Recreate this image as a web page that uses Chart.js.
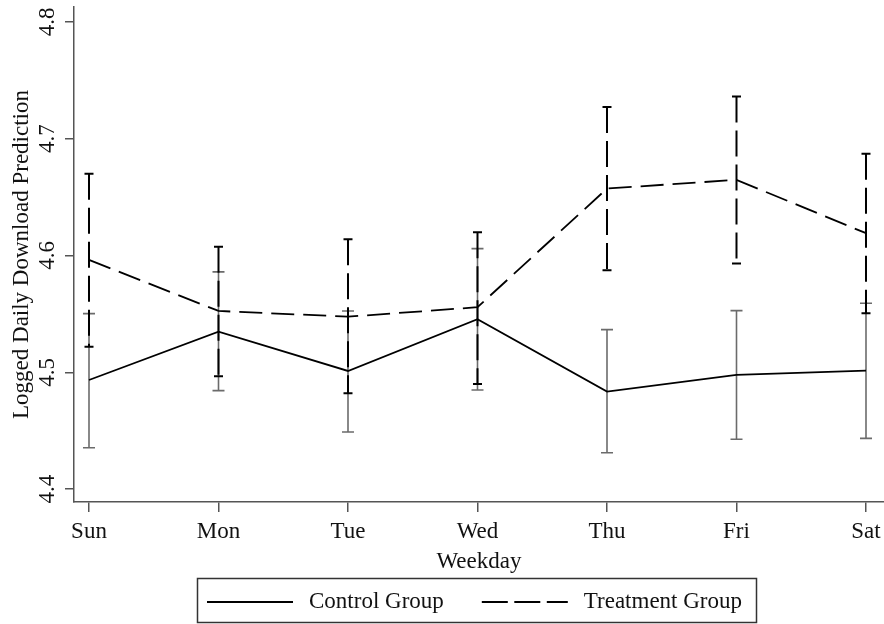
<!DOCTYPE html>
<html><head><meta charset="utf-8">
<script src="https://cdn.jsdelivr.net/npm/chart.js@4.4.0/dist/chart.umd.min.js"></script>
<style>html,body{margin:0;padding:0;background:#fff;overflow:hidden}</style>
</head><body>
<canvas id="c" width="884" height="624"></canvas>
<script>
const days = ['Sun','Mon','Tue','Wed','Thu','Fri','Sat'];
const controlMean = [4.4934, 4.5348, 4.5011, 4.5454, 4.4834, 4.4977, 4.5014];
const controlLow  = [4.4354, 4.4843, 4.4488, 4.4848, 4.4311, 4.4426, 4.4434];
const controlHigh = [4.5502, 4.5860, 4.5525, 4.6059, 4.5365, 4.5528, 4.5591];
const treatMean = [4.5962, 4.5525, 4.5476, 4.5557, 4.6573, 4.6648, 4.6191];
const treatLow  = [4.5219, 4.4966, 4.4820, 4.4900, 4.5874, 4.5931, 4.5506];
const treatHigh = [4.6700, 4.6074, 4.6140, 4.6200, 4.7271, 4.7362, 4.6871];
const yTicks = [4.4, 4.5, 4.6, 4.7, 4.8];

const FONT = {family: '"Liberation Serif", "Times New Roman", serif', size: 23};
const TXT = '#111';
const AX = '#555';

const errorBarPlugin = {
  id: 'errorBars',
  beforeDatasetsDraw(chart) {
    const {ctx, scales: {x, y}} = chart;
    const specs = [
      {low: controlLow, high: controlHigh, color: '#6b6b6b', width: 1.6, cap: 6, dash: []},
      {low: treatLow, high: treatHigh, color: '#000', width: 2, cap: 4.5, dash: [26, 8]}
    ];
    ctx.save();
    specs.forEach(s => {
      s.low.forEach((lo, i) => {
        const px = x.getPixelForValue(i);
        const yl = y.getPixelForValue(lo), yh = y.getPixelForValue(s.high[i]);
        ctx.strokeStyle = s.color; ctx.lineWidth = s.width;
        ctx.setLineDash(s.dash);
        ctx.beginPath(); ctx.moveTo(px, yh); ctx.lineTo(px, yl); ctx.stroke();
        ctx.setLineDash([]);
        ctx.beginPath();
        ctx.moveTo(px - s.cap, yh); ctx.lineTo(px + s.cap, yh);
        ctx.moveTo(px - s.cap, yl); ctx.lineTo(px + s.cap, yl);
        ctx.stroke();
      });
    });
    ctx.restore();
  }
};

const boxLegendPlugin = {
  id: 'boxLegend',
  afterDraw(chart) {
    const ctx = chart.ctx;
    ctx.save();
    ctx.font = FONT.size + 'px ' + FONT.family;
    const sample = 86, gapText = 16, gapItem = 38, padL = 10, padR = 14;
    const items = chart.data.datasets.map(ds => ({ds, w: ctx.measureText(ds.label).width}));
    let total = padL + padR;
    items.forEach((it, i) => { total += sample + gapText + it.w + (i ? gapItem : 0); });
    const cx = 477, top = 578, h = 44;
    const left = Math.round(cx - total / 2);
    ctx.strokeStyle = '#333'; ctx.lineWidth = 1.5;
    ctx.strokeRect(left + 0.5, top + 0.5, Math.round(total), h);
    let xc = left + padL; const ym = 602;
    items.forEach((it, i) => {
      if (i) xc += gapItem;
      ctx.strokeStyle = it.ds.borderColor; ctx.lineWidth = it.ds.borderWidth;
      ctx.setLineDash(it.ds.legendDash || []);
      ctx.beginPath(); ctx.moveTo(xc, ym); ctx.lineTo(xc + sample, ym); ctx.stroke();
      ctx.setLineDash([]);
      xc += sample + gapText;
      ctx.fillStyle = TXT; ctx.textBaseline = 'middle'; ctx.textAlign = 'left';
      ctx.fillText(it.ds.label, xc, ym);
      xc += it.w;
    });
    ctx.restore();
  }
};

new Chart(document.getElementById('c'), {
  type: 'line',
  data: {
    datasets: [
      {label: 'Control Group', data: days.map((d, i) => ({x: i, y: controlMean[i]})),
       borderColor: '#000', borderWidth: 1.8, pointRadius: 0, fill: false, tension: 0, legendDash: []},
      {label: 'Treatment Group', data: days.map((d, i) => ({x: i, y: treatMean[i]})),
       borderColor: '#000', borderWidth: 1.8, borderDash: [23, 9], pointRadius: 0, fill: false, tension: 0, legendDash: [26, 6.5]}
    ]
  },
  options: {
    responsive: false, animation: false,
    layout: {padding: {left: 0, top: 7, right: 0, bottom: 50}},
    plugins: {legend: {display: false}, tooltip: {enabled: false}},
    scales: {
      x: {
        type: 'linear', min: -0.1158, max: 6.139,
        afterBuildTicks: s => { s.ticks = days.map((d, i) => ({value: i})); },
        afterFit: s => { s.height = 72; s.paddingLeft = 0; s.paddingRight = 0; },
        ticks: {callback: v => days[v], font: FONT, color: TXT, padding: 6, autoSkip: false, maxRotation: 0},
        grid: {display: true, drawOnChartArea: false, drawTicks: true, tickLength: 10, color: AX, lineWidth: 1.5},
        border: {display: true, color: AX, width: 1.5},
        title: {display: true, text: 'Weekday', font: FONT, color: TXT, padding: {top: 0, bottom: -2}}
      },
      y: {
        min: 4.3889, max: 4.8128,
        afterBuildTicks: s => { s.ticks = yTicks.map(v => ({value: v})); },
        afterFit: s => { s.width = 74; s.paddingTop = 0; s.paddingBottom = 0; },
        ticks: {callback: v => Number(v).toFixed(1), minRotation: 90, maxRotation: 90, crossAlign: 'center', padding: 3, font: FONT, color: TXT},
        grid: {display: true, drawOnChartArea: false, drawTicks: true, tickLength: 9, color: AX, lineWidth: 1.5},
        border: {display: true, color: AX, width: 1.5},
        title: {display: true, text: 'Logged Daily Download Prediction', font: FONT, color: TXT, padding: {top: 8, bottom: 0}}
      }
    }
  },
  plugins: [errorBarPlugin, boxLegendPlugin]
});
</script>
</body></html>
